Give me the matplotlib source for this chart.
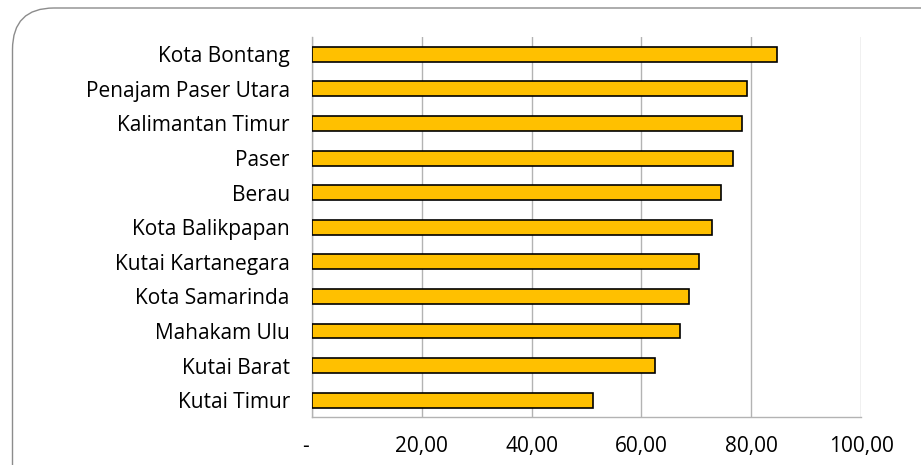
import matplotlib
matplotlib.use("Agg")
import matplotlib.pyplot as plt
from matplotlib.patches import FancyBboxPatch
from matplotlib.transforms import ScaledTranslation

categories = ["Kota Bontang", "Penajam Paser Utara", "Kalimantan Timur", "Paser", "Berau",
              "Kota Balikpapan", "Kutai Kartanegara", "Kota Samarinda", "Mahakam Ulu",
              "Kutai Barat", "Kutai Timur"]
values = [84.7, 79.2, 78.3, 76.6, 74.5, 72.9, 70.5, 68.6, 67.0, 62.5, 51.1]
xticks = [0, 20, 40, 60, 80, 100]
xticklabels = ["-", "20,00", "40,00", "60,00", "80,00", "100,00"]

plt.rcParams['font.family'] = ['Open Sans', 'DejaVu Sans']

fig = plt.figure(figsize=(9.21, 4.65), dpi=100)
ax = fig.add_axes([0.3388, 0.1022, 0.5962, 0.8182])

# rounded frame
frame = FancyBboxPatch((12.5 / 921, -0.2), 1.2, 1.2 - 8 / 465,
                       boxstyle="round,pad=0,rounding_size=0.045",
                       transform=fig.transFigure, facecolor="none",
                       edgecolor="#8c8c8c", linewidth=1.0, mutation_aspect=921 / 465)
fig.patches.append(frame)

n = len(categories)
ypos = list(range(n))[::-1]
ax.barh(ypos, values, height=0.43, color="#FFC000", edgecolor="black", linewidth=1.2, zorder=3)

ax.set_xlim(0, 100)
ax.set_ylim(-0.5, n - 0.5)
ax.set_xticks(xticks)
ax.set_xticklabels(xticklabels, fontsize=15)
ax.set_yticks(ypos)
ax.set_yticklabels(categories, fontsize=15)
ax.tick_params(axis='x', length=0, pad=13)
ax.tick_params(axis='y', length=0, pad=16)
ax.grid(axis='x', color="#b3b3b3", linewidth=1.0, zorder=0)
ax.set_axisbelow(True)
for s in ["top", "right"]:
    ax.spines[s].set_visible(False)
for s in ["left", "bottom"]:
    ax.spines[s].set_color("#b3b3b3")
    ax.spines[s].set_linewidth(1.0)

first = ax.get_xticklabels()[0]
first.set_transform(first.get_transform() + ScaledTranslation(-7 / 100, 0, fig.dpi_scale_trans))

fig.savefig("out.png", dpi=100)
